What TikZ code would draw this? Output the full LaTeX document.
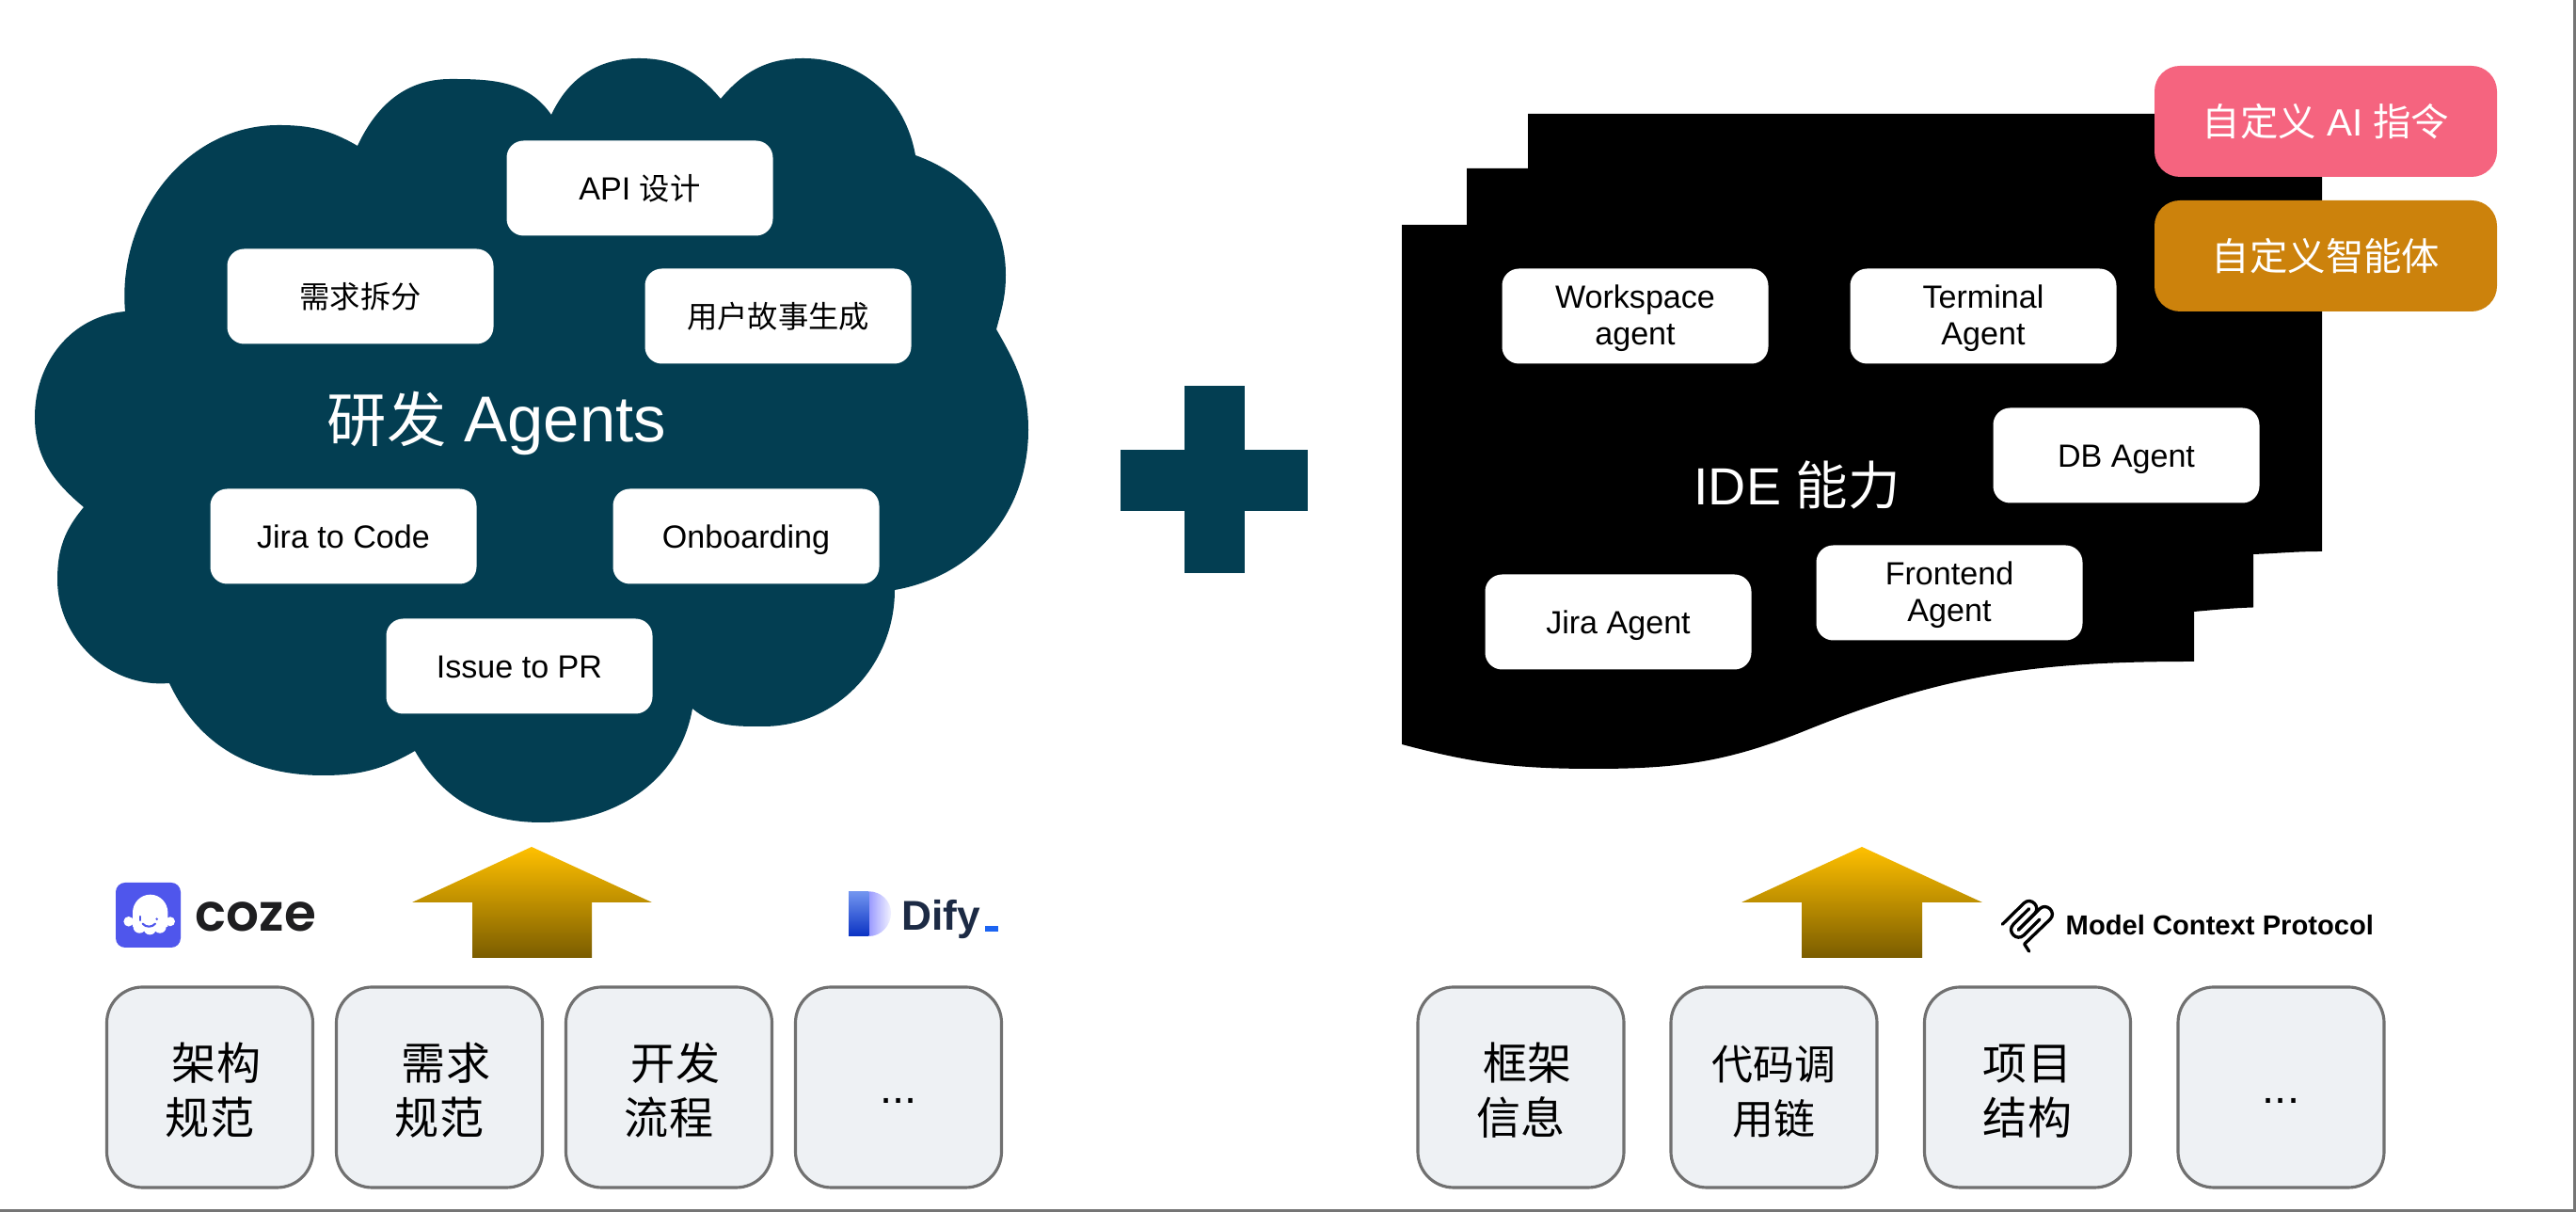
\documentclass[tikz,border=0pt]{standalone}
\usepackage{fontspec}
\usepackage{xcolor}
\setmainfont{Liberation Sans}
\newfontfamily\cjk{Noto Sans CJK SC}
\newfontfamily\logofont{Poppins}[BoldFont=* SemiBold]
\newcommand{\cjksmall}{\cjk\fontsize{9.2}{11.3}\selectfont}
\definecolor{cloudblue}{RGB}{3,62,82}
\definecolor{pinkbox}{RGB}{245,100,127}
\definecolor{orangebox}{RGB}{204,130,12}
\definecolor{basefill}{RGB}{238,241,244}
\definecolor{baseborder}{RGB}{112,112,112}
\definecolor{arrowtop}{RGB}{255,192,0}
\definecolor{arrowbottom}{RGB}{122,92,0}
\definecolor{cozeblue}{RGB}{79,86,236}
\definecolor{cozetext}{RGB}{30,30,32}
\definecolor{difydark}{RGB}{28,42,68}
\definecolor{difyblue}{RGB}{28,100,242}
\definecolor{edgegray}{RGB}{117,117,117}
\tikzset{
  agentbox/.style={fill=white, rounded corners=0.18cm, minimum width=2.83cm, minimum height=1.01cm, inner sep=0pt, align=center, font=\fontsize{9.7}{11.3}\selectfont, text height=6.9pt, text depth=0pt},
  agenttwo/.style={agentbox, text height=17.6pt, text depth=0pt},
  basebox/.style={draw=baseborder, fill=basefill, line width=0.9pt, rounded corners=0.38cm, minimum width=2.19cm, minimum height=2.13cm, inner sep=0pt, align=center, font=\fontsize{13.4}{16.4}\selectfont, text height=28.2pt, text depth=0pt},
  moredots/.style={basebox, text height=9.6pt, text depth=0pt},
  custombox/.style={rounded corners=0.27cm, minimum width=3.64cm, minimum height=1.18cm, inner sep=0pt, text=white, font=\fontsize{11.5}{13}\selectfont, text height=8.8pt, text depth=0pt},
  headlabel/.style={text=white, inner sep=0pt, font=\fontsize{19.6}{21}\selectfont},
  feedarrow/.style={top color=arrowtop, bottom color=arrowbottom},
  mcpline/.style={line width=0.95pt, line cap=round, line join=round}
}
\begin{document}
\begin{tikzpicture}
\useasboundingbox (0,0) rectangle (27.38,12.88);
\fill[white] (0,0) rectangle (27.38,12.88);

% 1. AGENT CLOUD (Left)
\fill[cloudblue] (3.80,11.33) to[out=65,in=180] (4.79,12.04) to[out=0,in=125] (5.86,11.66)
  to[out=65,in=180] (6.79,12.26) to[out=0,in=130] (7.66,11.83)
  to[out=50,in=180] (8.54,12.26) to[out=0,in=100] (9.73,11.23)
  to[out=-20,in=90] (10.69,9.96) to[out=-90,in=75] (10.59,9.38)
  to[out=-60,in=90] (10.93,8.31) to[out=-90,in=10] (9.51,6.61)
  to[out=-90,in=0] (8.11,5.16) to[out=180,in=-40] (7.36,5.35)
  to[out=-100,in=0] (5.75,4.14) to[out=180,in=-60] (4.41,4.90)
  to[out=-150,in=0] (3.43,4.64) to[out=180,in=-65] (1.80,5.62)
  to[out=-175,in=-90] (0.61,6.72) to[out=90,in=-130] (0.89,7.49)
  to[out=140,in=-90] (0.37,8.45) to[out=90,in=-175] (1.33,9.57)
  to[out=95,in=180] (2.96,11.55) to[out=0,in=150] (3.80,11.33) -- cycle;

\node[agentbox] (apiNode) at (6.80,10.88) {API {\cjksmall 设计}};
\node[agentbox] (splitNode) at (3.83,9.73) {\cjksmall 需求拆分};
\node[agentbox] (storyNode) at (8.27,9.52) {\cjksmall 用户故事生成};
\node[headlabel] (devLabel) at (5.28,8.38) {{\cjk\fontsize{18}{21}\selectfont 研发} Agents};
\node[agentbox] (jiraCodeNode) at (3.65,7.18) {Jira to Code};
\node[agentbox] (onboardNode) at (7.93,7.18) {Onboarding};
\node[agentbox] (issueNode) at (5.52,5.80) {Issue to PR};

% 2. PLUS SIGN
\fill[cloudblue] (12.59,8.78) rectangle (13.23,6.79);
\fill[cloudblue] (11.91,8.10) rectangle (13.90,7.45);

% 3. IDE SHAPE (Right)
\fill[black] (14.90,10.49) -- (15.59,10.49) -- (15.59,11.09) -- (16.24,11.09) -- (16.24,11.67)
  -- (24.68,11.67) -- (24.68,7.02) to[out=180,in=2] (23.95,6.99) -- (23.95,6.425)
  to[out=182,in=5] (23.32,6.38) -- (23.32,5.85)
  to[out=180,in=22] (19.20,5.12) to[out=202,in=0] (16.95,4.71) to[out=180,in=-15] (14.90,4.97) -- cycle;

\node[agenttwo] (workspaceNode) at (17.38,9.52) {Workspace\\agent};
\node[agenttwo] (terminalNode) at (21.08,9.52) {Terminal\\Agent};
\node[agentbox] (dbNode) at (22.60,8.04) {DB Agent};
\node[headlabel, font=\fontsize{15.8}{18}\selectfont] (ideLabel) at (19.10,7.73) {IDE {\cjk 能力}};
\node[agenttwo] (frontendNode) at (20.72,6.58) {Frontend\\Agent};
\node[agentbox] (jiraAgentNode) at (17.20,6.27) {Jira Agent};

% Custom Boxes
\node[custombox, fill=pinkbox] (commandNode) at (24.72,11.59) {{\cjk 自定义} AI {\cjk 指令}};
\node[custombox, fill=orangebox] (customNode) at (24.72,10.16) {\cjk 自定义智能体};

% 4. ARROWS
\shade[feedarrow] (5.65,3.88) -- (6.93,3.29) -- (6.29,3.29) -- (6.29,2.70) -- (5.02,2.70) -- (5.02,3.29) -- (4.38,3.29) -- cycle;
\shade[feedarrow] (19.79,3.88) -- (21.07,3.29) -- (20.43,3.29) -- (20.43,2.70) -- (19.15,2.70) -- (19.15,3.29) -- (18.51,3.29) -- cycle;

% 5. COZE LOGO
\fill[cozeblue, rounded corners=0.1cm] (1.23,3.50) rectangle (1.92,2.81);
\fill[white] (1.41,3.03) -- (1.41,3.18) arc (180:0:0.187cm and 0.193cm) -- (1.783,3.03) -- cycle;
\fill[white] (1.367,3.087) circle (0.053cm);
\fill[white] (1.81,3.087) circle (0.05cm);
\fill[white] (1.483,3.03) circle (0.067cm);
\fill[white] (1.593,3.013) circle (0.067cm);
\fill[white] (1.70,3.03) circle (0.067cm);
\draw[cozeblue, line width=0.6pt, line cap=round] (1.493,3.14) -- (1.493,3.10);
\fill[cozeblue] (1.667,3.113) circle (0.014cm);
\draw[cozeblue, line width=0.6pt, line cap=round] (1.517,3.063) to[out=-50,in=-130] (1.65,3.063);
\node[anchor=base west, inner sep=0pt, text=cozetext, font=\logofont\bfseries\fontsize{15.6}{18}\selectfont] (cozeLabel) at (2.07,2.98) {coze};

% 6. DIFY LOGO
\shade[left color=blue!40!white, right color=blue!5!white] (9.233,3.407) to[out=0,in=90] (9.47,3.18) to[out=-90,in=0] (9.233,2.93) -- cycle;
\shade[top color={rgb,255:red,115;green,150;blue,240}, bottom color={rgb,255:red,10;green,50;blue,195}] (9.02,3.407) rectangle (9.233,2.93);
\node[anchor=base west, inner sep=0pt, text=difydark, font=\bfseries\fontsize{12.6}{14}\selectfont] (difyLabel) at (9.58,2.99) {Dify};
\fill[difyblue] (10.467,3.04) rectangle (10.607,2.98);

% 7. MCP LOGO
\draw[mcpline] (21.283,3.057) -- (21.51,3.28) to[out=45,in=45,looseness=1.7] (21.623,3.167) -- (21.453,2.997);
\draw[mcpline] (21.453,2.997) -- (21.677,3.22) to[out=45,in=45,looseness=1.7] (21.79,3.11) -- (21.517,2.847) -- (21.567,2.77);
\draw[mcpline] (21.567,3.223) -- (21.40,3.057) to[out=225,in=225,looseness=1.7] (21.513,2.943) -- (21.68,3.11);
\node[anchor=base west, inner sep=0pt, font=\bfseries\fontsize{8.3}{10}\selectfont] (mcpLabel) at (21.95,2.94) {Model Context Protocol};

% 8. BASE BOXES
\node[basebox] (archBox) at (2.23,1.325) {\cjk\hspace*{4pt}架构\\\cjk 规范};
\node[basebox] (reqBox) at (4.67,1.325) {\cjk\hspace*{4pt}需求\\\cjk 规范};
\node[basebox] (flowBox) at (7.11,1.325) {\cjk\hspace*{4pt}开发\\\cjk 流程};
\node[moredots] (moreLeftBox) at (9.55,1.325) {...};
\node[basebox] (frameBox) at (16.165,1.325) {\cjk\hspace*{4pt}框架\\\cjk 信息};
\node[basebox, font=\fontsize{12.5}{16.4}\selectfont] (chainBox) at (18.855,1.325) {\cjk 代码调\\\cjk 用链};
\node[basebox] (structBox) at (21.55,1.325) {\cjk 项目\\\cjk 结构};
\node[moredots] (moreRightBox) at (24.245,1.325) {...};

% Image Edge
\fill[edgegray] (0,0) rectangle (27.38,0.03);
\fill[edgegray] (27.35,0) rectangle (27.38,12.88);

\end{tikzpicture}
\end{document}
